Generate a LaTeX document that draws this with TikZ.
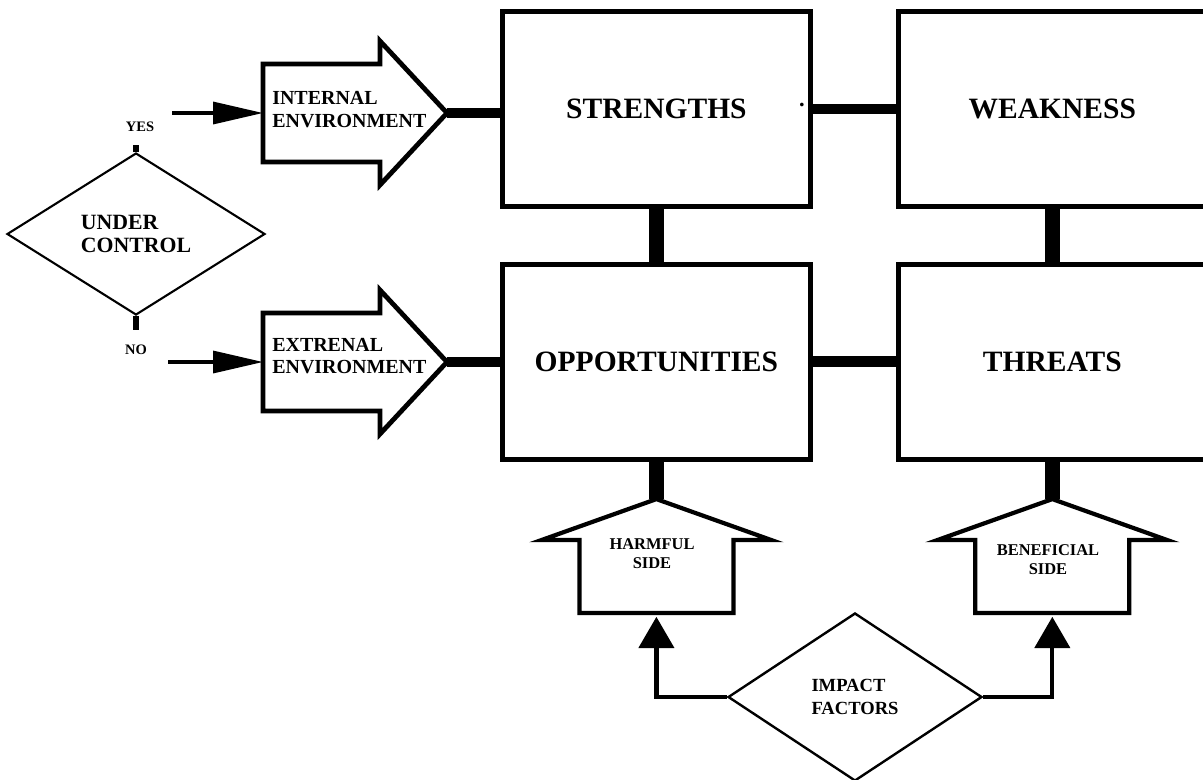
\documentclass[tikz,border=0pt]{standalone}
\usepackage{fontspec}
\setmainfont{Liberation Serif}
\usetikzlibrary{positioning,shapes.geometric,arrows.meta}

\begin{document}
\begin{tikzpicture}[every node/.style={font=\bfseries},
  swotbox/.style={draw, line width=3.5pt, minimum width=7.7cm, minimum height=4.875cm, inner sep=0pt, font=\fontsize{21}{24}\selectfont\bfseries},
  decision/.style={draw, diamond, line width=1.5pt, inner sep=0pt, align=left},
  envshape/.style={draw, line width=3.4pt},
  envtext/.style={anchor=west, align=left, inner sep=0pt, font=\fontsize{14.2}{16}\selectfont\bfseries},
  sidetext/.style={align=center, inner sep=0pt, font=\fontsize{11.7}{13.4}\selectfont\bfseries},
  house/.style={draw, line width=3pt},
  hlink/.style={line width=7.8pt},
  vlink/.style={line width=10.7pt},
  stub/.style={line width=4.3pt},
  inarrow/.style={line width=2.4pt, -{Triangle[length=1.25cm, width=0.55cm]}},
  uparrow/.style={line width=3pt, -{Triangle[length=0.78cm, width=0.875cm]}}]
  \useasboundingbox (0,0) rectangle (30.075,-19.475);

  % SWOT boxes
  \node[swotbox] (str) at (16.41,-2.725) {STRENGTHS};
  \node[swotbox, right=2.075cm of str] (weak) {WEAKNESS};
  \node[swotbox, below=1.325cm of str] (opp) {OPPORTUNITIES};
  \node[swotbox, right=2.075cm of opp] (thr) {THREATS};
  \node[font=\fontsize{16}{18}\selectfont\bfseries, inner sep=0pt] (dot) at (20.05,-2.62) {.};

  \draw[hlink] (str) -- (weak);
  \draw[hlink] (opp) -- (thr);
  \draw[vlink] (str) -- (opp);
  \draw[vlink] (weak) -- (thr);

  % under control
  \node[decision, minimum width=6.45cm, minimum height=4.05cm, font=\fontsize{15.5}{17}\selectfont\bfseries] (uc) at (3.4,-5.85) {UNDER\\CONTROL};
  \coordinate (yesend) at (3.4,-3.625);
  \coordinate (noend) at (3.4,-8.25);
  \draw[stub] (uc.north) -- (yesend);
  \draw[stub] (uc.south) -- (noend);
  \node[font=\fontsize{10.3}{12}\selectfont\bfseries] (yes) at (3.5,-3.175) {YES};
  \node[font=\fontsize{10.3}{12}\selectfont\bfseries] (no) at (3.4,-8.75) {NO};

  % internal environment
  \coordinate (itip) at (11.175,-2.825);
  \coordinate (ibody) at (6.575,-2.825);
  \coordinate (yesin) at (4.3,-2.825);
  \draw[envshape] (ibody) -- ++(0,1.225) -- ++(2.925,0) -- ++(0,0.575) -- (itip) -- ++(-1.675,-1.8) -- ++(0,0.575) -- ++(-2.925,0) -- cycle;
  \node[envtext] (intl) at (6.8,-2.74) {INTERNAL\\ENVIRONMENT};
  \draw[inarrow] (yesin) -- (ibody);
  \draw[hlink] (itip) -- (itip -| str.west);

  % external environment
  \coordinate (etip) at (11.175,-9.05);
  \coordinate (ebody) at (6.575,-9.05);
  \coordinate (noin) at (4.2,-9.05);
  \draw[envshape] (ebody) -- ++(0,1.225) -- ++(2.925,0) -- ++(0,0.575) -- (etip) -- ++(-1.675,-1.8) -- ++(0,0.575) -- ++(-2.925,0) -- cycle;
  \node[envtext] (extl) at (6.8,-8.9) {EXTRENAL\\ENVIRONMENT};
  \draw[inarrow] (noin) -- (ebody);
  \draw[hlink] (etip) -- (etip -| opp.west);

  % harmful / beneficial
  \coordinate[below=0.93cm of opp] (hroof);
  \coordinate[below=0.93cm of thr] (broof);
  \draw[house] (hroof) -- ++(2.875,-1.025) -- ++(-0.95,0) -- ++(0,-1.825) -- ++(-3.85,0) -- ++(0,1.825) -- ++(-0.95,0) -- cycle;
  \draw[house] (broof) -- ++(2.875,-1.025) -- ++(-0.95,0) -- ++(0,-1.825) -- ++(-3.85,0) -- ++(0,1.825) -- ++(-0.95,0) -- cycle;
  \node[sidetext] (harm) at (16.3,-13.85) {HARMFUL\\SIDE};
  \node[sidetext] (bene) at (26.2,-14.0) {BENEFICIAL\\SIDE};
  \draw[vlink] (opp.south) -- (hroof);
  \draw[vlink] (thr.south) -- (broof);

  % impact factors
  \node[decision, minimum width=6.35cm, minimum height=4.2cm, line width=1.7pt, font=\fontsize{13.2}{16.4}\selectfont\bfseries] (imp) at (21.375,-17.425) {IMPACT\\FACTORS};
  \coordinate (hbase) at (hroof |- 0,-15.42);
  \coordinate (bbase) at (broof |- 0,-15.42);
  \draw[uparrow] (imp.west) -| (hbase);
  \draw[uparrow] (imp.east) -| (bbase);
\end{tikzpicture}
\end{document}
